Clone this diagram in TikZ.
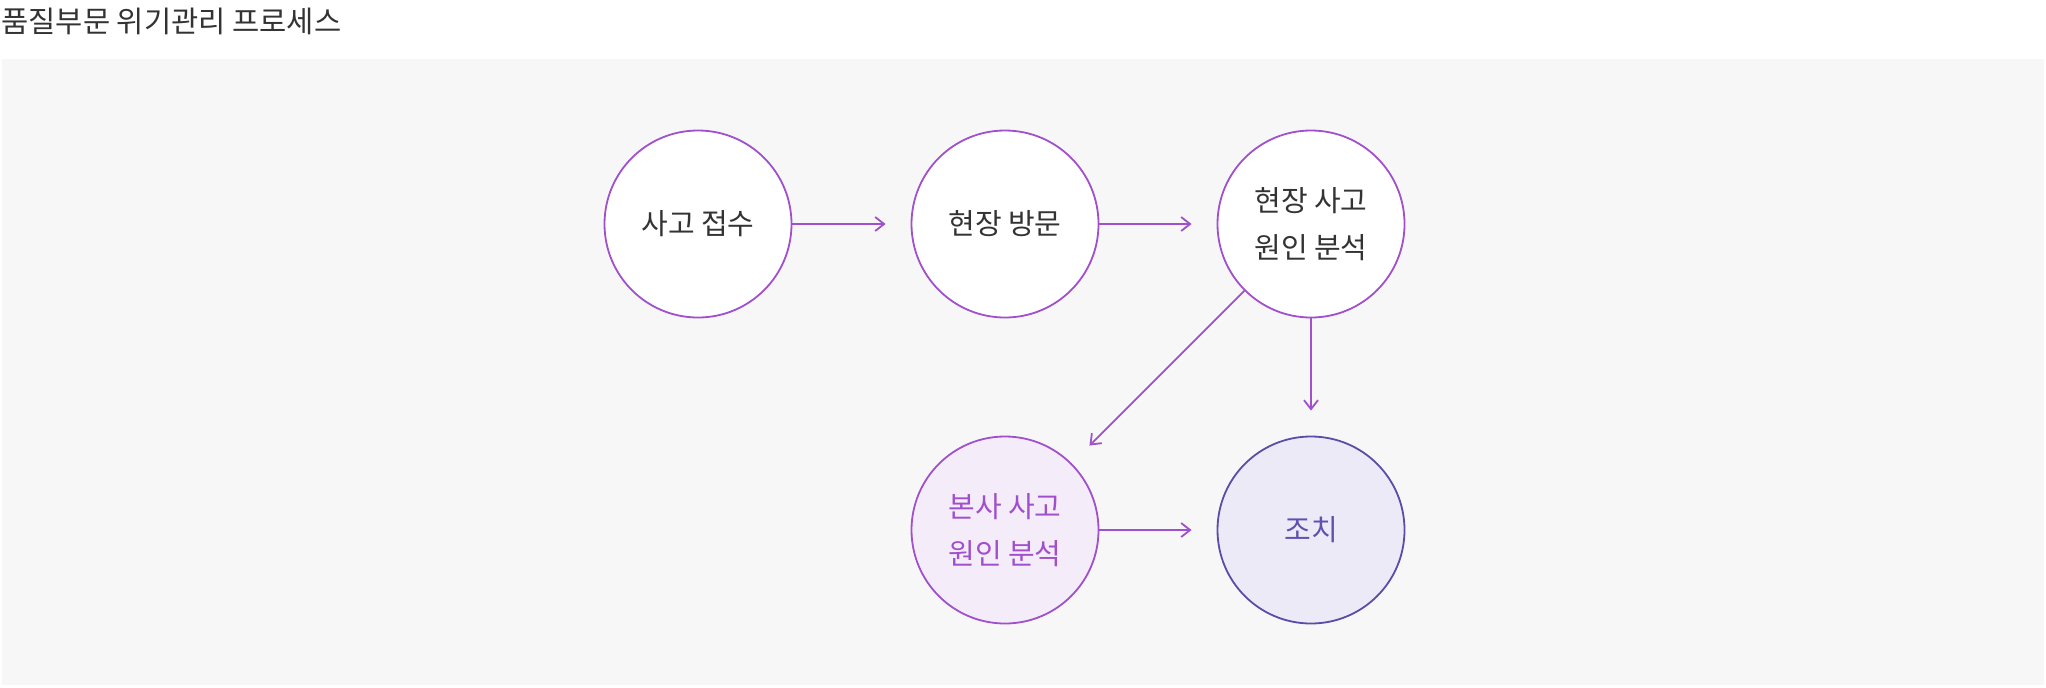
\documentclass[tikz,border=0pt]{standalone}
\usepackage{fontspec}
\setmainfont{Noto Sans CJK KR}
\usetikzlibrary{arrows.meta,positioning}
\definecolor{bgray}{RGB}{247,247,247}
\definecolor{txtgray}{RGB}{51,51,51}
\definecolor{linepurple}{RGB}{160,80,204}
\definecolor{fillpurple}{RGB}{245,236,250}
\definecolor{linedeep}{RGB}{92,76,168}
\definecolor{filldeep}{RGB}{236,234,246}
\definecolor{txtdeep}{RGB}{96,80,176}

\begin{document}
\begin{tikzpicture}[x=0.5pt,y=-0.5pt,
  stepnode/.style={circle,draw=linepurple,line width=0.9pt,fill=white,minimum size=93.5pt,inner sep=0pt,
    text=txtgray,font=\fontsize{14.5}{23.5}\selectfont,align=center},
  hqnode/.style={stepnode,fill=fillpurple,text=linepurple},
  endnode/.style={stepnode,draw=linedeep,fill=filldeep,text=txtdeep},
  flow/.style={draw=linepurple,line width=0.9pt,-{Straight Barb[length=4.5pt,width=7pt]},shorten >=12.5pt}]
\useasboundingbox (0,0) rectangle (2046,687);
\fill[bgray] (2,59) rectangle (2044,685);
\node[anchor=west,inner sep=0pt,text=txtgray,font=\fontsize{14.8}{16}\selectfont] (title) at (1,21) {품질부문 위기관리 프로세스};

\node[stepnode] (receipt) at (698,224) {사고 접수};
\node[stepnode] (visit) at (1005,224) {현장 방문};
\node[stepnode] (sitecause) at (1311,224) {현장 사고\\원인 분석};
\node[hqnode] (hqcause) at (1005,530) {본사 사고\\원인 분석};
\node[endnode] (action) at (1311,530) {조치};

\draw[flow] (receipt) -- (visit);
\draw[flow] (visit) -- (sitecause);
\draw[flow] (sitecause) -- (hqcause);
\draw[flow] (sitecause) -- (action);
\draw[flow] (hqcause) -- (action);
\end{tikzpicture}
\end{document}
